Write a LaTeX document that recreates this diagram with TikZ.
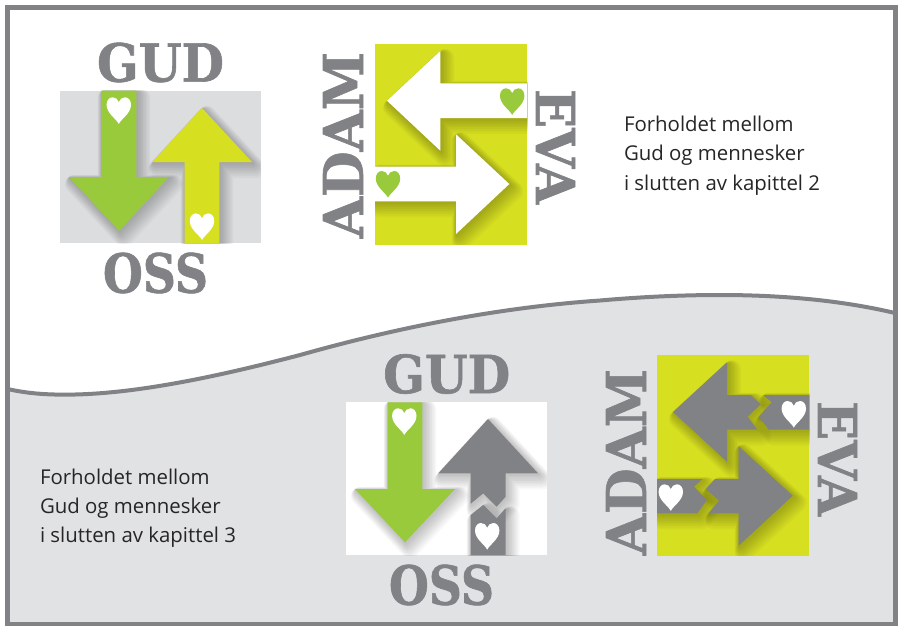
\documentclass[tikz,border=0pt]{standalone}
\usepackage{fontspec}
\setmainfont{Open Sans}
\newfontfamily\slabfont{DejaVu Serif Bold}[FakeBold=1.2]
\definecolor{gr}{HTML}{808285}
\definecolor{lg}{HTML}{DCDDDF}
\definecolor{lower}{HTML}{E1E2E4}
\definecolor{grn}{HTML}{99CA3C}
\definecolor{yel}{HTML}{D7DF21}
\tikzset{
  slab/.style={inner sep=0pt,outer sep=0pt,text=gr},
  body/.style={inner sep=0pt,outer sep=0pt,anchor=base west,text=black!85,font=\fontsize{20.4}{24}\selectfont},
}
\newcommand\slabtxt[3]{\resizebox{#2pt}{#3pt}{\slabfont #1}}
% soft shadow: layered translucent copies, growing towards the lower right
\newcommand\softshadow[1]{%
  \foreach \w/\dx/\dy in {2/1/1.5,4/1.5/2,6/2/2.8,8/2.5/3.5,10/3/4.2,12/3.5/4.8,14/4/5.5,16/4.5/6.2,18/5/7}{
    \begin{scope}[transparency group,opacity=0.026]
    \path[shift={(\dx,\dy)},fill=black,draw=black,line width=\w pt,line join=round] #1;
    \end{scope}
  }}
\newcommand\heart[3]{% colour, centre x, top y
  \fill[#1,shift={(#2,#3)}] (0,26.6) .. controls (-2.5,21.5) and (-12.2,16) .. (-12.2,7.5)
    .. controls (-12.2,3) and (-9.5,0) .. (-6.2,0) .. controls (-3,0) and (-1,2) .. (0,4.8)
    .. controls (1,2) and (3,0) .. (6.2,0) .. controls (9.5,0) and (12.2,3) .. (12.2,7.5)
    .. controls (12.2,16) and (2.5,21.5) .. (0,26.6) -- cycle;}
\begin{document}
\begin{tikzpicture}[x=1pt,y=-1pt]
\useasboundingbox (0,0) rectangle (902,625);
\fill[white] (0,0) rectangle (902,625);
% lower background
\fill[lower] (7.5,389) .. controls (30,394) and (50,395) .. (75,394.5)
  .. controls (140,393) and (220,376) .. (300,355)
  .. controls (385,331) and (490,308) .. (600,300.5)
  .. controls (640,297) and (680,295) .. (720,295)
  .. controls (780,295) and (840,300) .. (895,313) -- (895,624) -- (7.5,624) -- cycle;
\draw[gr,line width=4pt] (7.5,389) .. controls (30,394) and (50,395) .. (75,394.5)
  .. controls (140,393) and (220,376) .. (300,355)
  .. controls (385,331) and (490,308) .. (600,300.5)
  .. controls (640,297) and (680,295) .. (720,295)
  .. controls (780,295) and (840,300) .. (895,313);
\draw[gr,line width=5pt] (7.5,7.5) rectangle (895,624);

% ---- panel A
\fill[lg] (60,90.7) rectangle (260.7,243.3);
\begin{scope}
\clip (60,90.7) rectangle (260.7,243.3);
\softshadow{(101.7,90.7) -- (136.3,90.7) -- (136.3,177) -- (169,177) -- (119,231) -- (69,177) -- (101.7,177) -- cycle}
\softshadow{(184.7,243.3) -- (184.7,162) -- (152.3,162) -- (202,108) -- (252,162) -- (219.3,162) -- (219.3,243.3) -- cycle}
\end{scope}
\fill[grn] (101.7,90.7) -- (136.3,90.7) -- (136.3,177) -- (169,177) -- (119,231) -- (69,177) -- (101.7,177) -- cycle;
\fill[yel] (184.7,243.3) -- (184.7,162) -- (152.3,162) -- (202,108) -- (252,162) -- (219.3,162) -- (219.3,243.3) -- cycle;
\heart{white}{118.8}{97.3}
\heart{white}{202}{213.4}
\node[slab] (gud1) at (160.5,62.5) {\slabtxt{GUD}{127}{39}};
\node[slab] (oss1) at (155.5,273) {\slabtxt{OSS}{105}{40}};

% ---- panel B
\fill[yel] (375,44) rectangle (527,244.7);
\begin{scope}
\clip (375,44) rectangle (527,244.7);
\softshadow{(387,100.7) -- (440.3,51) -- (440.3,83.3) -- (527,83.3) -- (527,118) -- (440.3,118) -- (440.3,150.7) -- cycle}
\softshadow{(375,166.7) -- (456,166.7) -- (456,134.3) -- (509.3,184) -- (456,234) -- (456,201.3) -- (375,201.3) -- cycle}
\end{scope}
\fill[white] (387,100.7) -- (440.3,51) -- (440.3,83.3) -- (527,83.3) -- (527,118) -- (440.3,118) -- (440.3,150.7) -- cycle;
\fill[white] (375,166.7) -- (456,166.7) -- (456,134.3) -- (509.3,184) -- (456,234) -- (456,201.3) -- (375,201.3) -- cycle;
\heart{grn}{512.2}{88.3}
\heart{grn}{388}{171}
\node[slab,rotate=90] (adam1) at (343,145) {\slabtxt{ADAM}{186}{40}};
\node[slab,rotate=-90] (eva1) at (555.5,146.5) {\slabtxt{EVA}{115}{39}};

% ---- panel C
\fill[white] (346,402.3) rectangle (546.7,555);
\begin{scope}
\clip (346,402.3) rectangle (546.7,555);
\softshadow{(387.7,402.3) -- (422.3,402.3) -- (422.3,489) -- (455,489) -- (405,542.3) -- (355,489) -- (387.7,489) -- cycle}
\softshadow{(470.7,503.7) -- (470.7,473.3) -- (438.3,473.3) -- (488,419) -- (538,473.3) -- (505.7,473.3) -- (505.7,496.7) -- (496.7,506.7) -- (483.3,493.3) -- cycle}
\softshadow{(470.7,555) -- (470.7,515) -- (483.3,505) -- (496.7,518.3) -- (505.7,508.3) -- (505.7,555) -- cycle}
\end{scope}
\fill[grn] (387.7,402.3) -- (422.3,402.3) -- (422.3,489) -- (455,489) -- (405,542.3) -- (355,489) -- (387.7,489) -- cycle;
\fill[gr] (470.7,503.7) -- (470.7,473.3) -- (438.3,473.3) -- (488,419) -- (538,473.3) -- (505.7,473.3) -- (505.7,496.7) -- (496.7,506.7) -- (483.3,493.3) -- cycle;
\fill[gr] (470.7,555) -- (470.7,515) -- (483.3,505) -- (496.7,518.3) -- (505.7,508.3) -- (505.7,555) -- cycle;
\heart{white}{404.3}{408.3}
\heart{white}{487.2}{523}
\node[slab] (gud2) at (446.7,374) {\slabtxt{GUD}{127}{39}};
\node[slab] (oss2) at (441.5,585) {\slabtxt{OSS}{105}{40}};

% ---- panel D
\fill[yel] (657,355) rectangle (809,555.7);
\begin{scope}
\clip (657,355) rectangle (809,555.7);
\softshadow{(673,412) -- (727,362.3) -- (727,395) -- (750.7,395) -- (760.7,404.3) -- (747.7,416.7) -- (757.3,429.7) -- (727,429.7) -- (727,461.7) -- cycle}
\softshadow{(763.3,395) -- (771.7,402.3) -- (759,416.7) -- (768.7,429.7) -- (809,429.7) -- (809,395) -- cycle}
\softshadow{(657,479) -- (702.3,479) -- (694,486.7) -- (707,500) -- (697.3,513.3) -- (657,513.3) -- cycle}
\softshadow{(715,479) -- (706,489) -- (719,500.7) -- (708.7,513.3) -- (738.7,513.3) -- (738.7,545.7) -- (792.7,495.7) -- (738.7,446.3) -- (738.7,479) -- cycle}
\end{scope}
\fill[gr] (673,412) -- (727,362.3) -- (727,395) -- (750.7,395) -- (760.7,404.3) -- (747.7,416.7) -- (757.3,429.7) -- (727,429.7) -- (727,461.7) -- cycle;
\fill[gr] (763.3,395) -- (771.7,402.3) -- (759,416.7) -- (768.7,429.7) -- (809,429.7) -- (809,395) -- cycle;
\fill[gr] (657,479) -- (702.3,479) -- (694,486.7) -- (707,500) -- (697.3,513.3) -- (657,513.3) -- cycle;
\fill[gr] (715,479) -- (706,489) -- (719,500.7) -- (708.7,513.3) -- (738.7,513.3) -- (738.7,545.7) -- (792.7,495.7) -- (738.7,446.3) -- (738.7,479) -- cycle;
\heart{white}{793.8}{401}
\heart{white}{670.8}{484.3}
\node[slab,rotate=90] (adam2) at (626,462) {\slabtxt{ADAM}{186}{40}};
\node[slab,rotate=-90] (eva2) at (837.5,458.5) {\slabtxt{EVA}{115}{39}};

% ---- captions
\node[body] (t1a) at (624,131) {Forholdet mellom};
\node[body] (t1b) at (624,160) {Gud og mennesker};
\node[body] (t1c) at (624,190) {i slutten av kapittel 2};
\node[body] (t2a) at (40,484) {Forholdet mellom};
\node[body] (t2b) at (40,513) {Gud og mennesker};
\node[body] (t2c) at (40,542) {i slutten av kapittel 3};
\end{tikzpicture}
\end{document}
